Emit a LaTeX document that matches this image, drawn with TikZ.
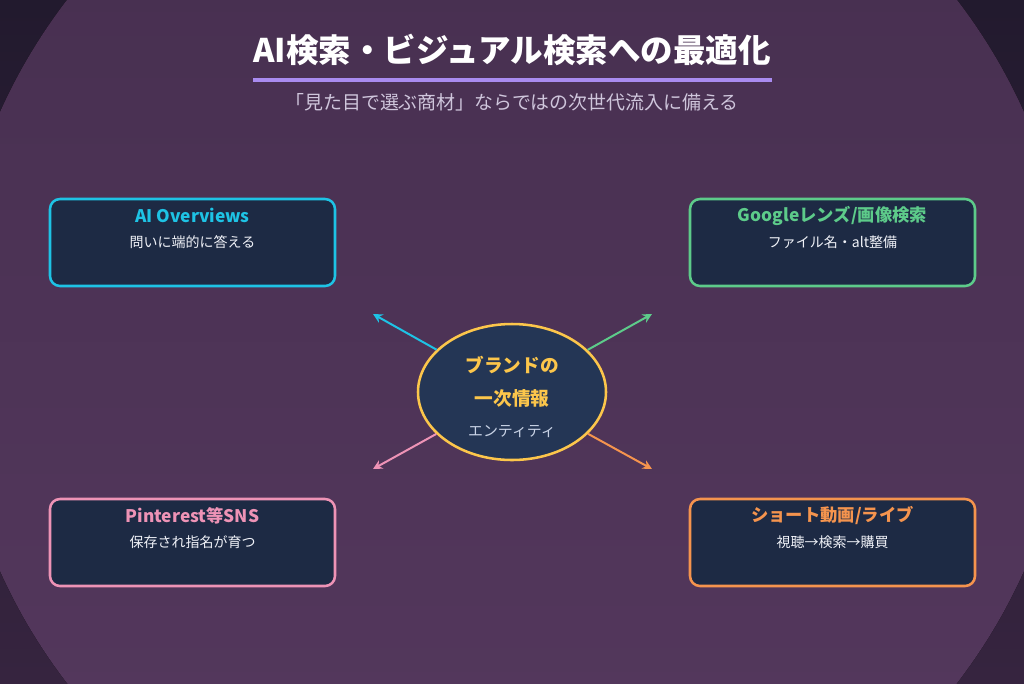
\documentclass[tikz,border=0pt]{standalone}
\usepackage{fontspec}
\setmainfont{Noto Sans CJK JP}
\usetikzlibrary{arrows.meta,positioning,calc,shapes.geometric}

\definecolor{bgOuterTop}{HTML}{221A2E}
\definecolor{bgOuterBottom}{HTML}{36243F}
\definecolor{bgInnerTop}{HTML}{452E4E}
\definecolor{bgInnerBottom}{HTML}{56395F}
\definecolor{barLav}{HTML}{A98BF0}
\definecolor{subText}{HTML}{CFC6DC}
\definecolor{cardFill}{HTML}{1D2A44}
\definecolor{hubFill}{HTML}{243655}
\definecolor{cardText}{HTML}{F0F2F8}
\definecolor{entityText}{HTML}{C9D3E6}
\definecolor{aiCyan}{HTML}{1EC3E5}
\definecolor{lensGreen}{HTML}{5DCB8A}
\definecolor{pinPink}{HTML}{EE93B6}
\definecolor{shortOrange}{HTML}{F5944E}
\definecolor{hubYellow}{HTML}{FCC64B}

\tikzset{
  card/.style={draw, line width=1.9pt, rounded corners=7.5pt, fill=cardFill,
    minimum width=213.75pt, minimum height=65.25pt},
  cardtitle/.style={font=\bfseries\fontsize{13}{15}\selectfont},
  cardtext/.style={text=cardText, font=\fontsize{10.5}{12}\selectfont},
  flow/.style={line width=1.5pt, -{Stealth[length=7pt,width=7pt]}},
}

\begin{document}
\begin{tikzpicture}[x=0.75pt,y=-0.75pt]
    % Define the background
    \fill[top color=bgOuterTop, bottom color=bgOuterBottom] (0,0) rectangle (1024,683);
    \begin{scope}
        \clip (0,0) rectangle (1024,683);
        \fill[top color=bgInnerTop, bottom color=bgInnerBottom] (512,341.5) circle[radius=420.75pt];
    \end{scope}
    \useasboundingbox (0,0) rectangle (1024,683);

    % Add the title and its bar
    \node[text=white, font=\bfseries\fontsize{24.4}{30}\selectfont] (title) at (512,50) {AI検索・ビジュアル検索への最適化};
    \draw[barLav, line width=3pt] (253,80) -- (772,80);
    \node[text=subText, font=\fontsize{14.2}{17}\selectfont] (subtitle) at (512,102) {「見た目で選ぶ商材」ならではの次世代流入に備える};

    % Add the central ellipse
    \node[ellipse, draw=hubYellow, line width=1.9pt, fill=hubFill, minimum width=141pt, minimum height=102pt] (hub) at (512,392) {};
    \node[text=hubYellow, font=\bfseries\fontsize{14}{16}\selectfont] (hub-a) at (512,365) {ブランドの};
    \node[text=hubYellow, font=\bfseries\fontsize{14}{16}\selectfont] (hub-b) at (512,398) {一次情報};
    \node[text=entityText, font=\fontsize{11.2}{13}\selectfont] (hub-c) at (512,432) {エンティティ};

    % Add the four cards
    \node[card, draw=aiCyan] (ai) at (192.5,242.5) {};
    \node[cardtitle, text=aiCyan] (ai-t) at ($(ai.north)+(0,18)$) {AI Overviews};
    \node[cardtext] (ai-s) at ($(ai.north)+(0,44)$) {問いに端的に答える};

    \node[card, draw=lensGreen] (lens) at (832.5,242.5) {};
    \node[cardtitle, text=lensGreen] (lens-t) at ($(lens.north)+(0,18)$) {Googleレンズ/画像検索};
    \node[cardtext] (lens-s) at ($(lens.north)+(0,44)$) {ファイル名・alt整備};

    \node[card, draw=pinPink] (pin) at (192.5,542.5) {};
    \node[cardtitle, text=pinPink] (pin-t) at ($(pin.north)+(0,18)$) {Pinterest等SNS};
    \node[cardtext] (pin-s) at ($(pin.north)+(0,44)$) {保存され指名が育つ};

    \node[card, draw=shortOrange] (short) at (832.5,542.5) {};
    \node[cardtitle, text=shortOrange] (short-t) at ($(short.north)+(0,18)$) {ショート動画/ライブ};
    \node[cardtext] (short-s) at ($(short.north)+(0,44)$) {視聴→検索→購買};

    % Add the arrows out of the ellipse
    \coordinate (tip-ai) at (373,314);
    \coordinate (tip-lens) at (652,314);
    \coordinate (tip-pin) at (373,469);
    \coordinate (tip-short) at (652,469);
    \draw[flow, aiCyan] (hub) -- (tip-ai);
    \draw[flow, lensGreen] (hub) -- (tip-lens);
    \draw[flow, pinPink] (hub) -- (tip-pin);
    \draw[flow, shortOrange] (hub) -- (tip-short);
\end{tikzpicture}
\end{document}
